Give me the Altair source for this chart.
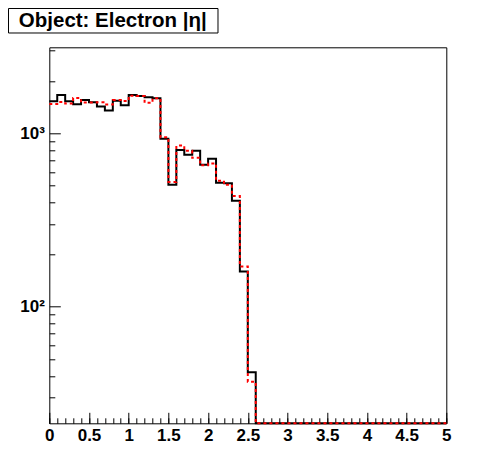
import altair as alt
import pandas as pd

# ---- data (bin contents, 50 bins of width 0.1 from 0 to 5) ----
bin_width = 0.1
black_counts = [1530, 1665, 1530, 1470, 1556, 1510, 1430, 1355, 1542, 1450,
                1665, 1640, 1612, 1592, 931, 505, 801, 753, 794, 659,
                714, 519, 515, 408, 160, 42, 0, 0, 0, 0,
                0, 0, 0, 0, 0, 0, 0, 0, 0, 0,
                0, 0, 0, 0, 0, 0, 0, 0, 0, 0]
red_counts = [1475, 1515, 1485, 1598, 1505, 1505, 1510, 1465, 1556, 1535,
              1645, 1640, 1502, 1592, 948, 524, 850, 794, 722, 654,
              671, 533, 505, 435, 171, 37, 0, 0, 0, 0,
              0, 0, 0, 0, 0, 0, 0, 0, 0, 0,
              0, 0, 0, 0, 0, 0, 0, 0, 0, 0]

x_major = [0, 0.5, 1, 1.5, 2, 2.5, 3, 3.5, 4, 4.5, 5]
x_minor = [round(i * bin_width, 1) for i in range(51)]
y_major = [100, 1000]
y_minor = [30, 40, 50, 60, 70, 80, 90, 200, 300, 400, 500, 600, 700, 800, 900, 2000, 3000]
y_domain = [21.3, 3133]
x_domain = [0, 5]
title_text = "Object: Electron |η|"


def hist_frame(counts):
    edges = [round(i * bin_width, 1) for i in range(len(counts))]
    xs = edges + [x_domain[1]]
    vs = counts + [counts[-1]]
    return pd.DataFrame({"x": xs, "v": vs})


FONT = "Liberation Sans"
W, H = 397, 376

xscale = alt.Scale(domain=x_domain, nice=False, zero=False)
yscale = alt.Scale(type="log", domain=y_domain, nice=False)

x_axis_major = alt.Axis(values=x_major, tickSize=11, offset=-11, domain=False, grid=False,
                        title=None, labelFont=FONT, labelFontWeight="bold", labelFontSize=17,
                        labelColor="black", tickColor="black", labelPadding=4,
                        labelFlush=False, labelOverlap=False, labelBound=False,
                        format=".1~f", orient="bottom")
y_axis_major = alt.Axis(values=y_major, tickSize=11, offset=-11, domain=False, grid=False,
                        title=None, labelFont=FONT, labelFontWeight="bold", labelFontSize=17,
                        labelColor="black", tickColor="black", labelPadding=5,
                        labelFlush=False, labelOverlap=False, labelBound=False,
                        labelExpr="datum.value == 1000 ? '10³' : '10²'", orient="left")
x_axis_minor = alt.Axis(values=x_minor, tickSize=5.5, offset=-5.5, domain=False, grid=False,
                        title=None, labels=False, tickColor="black", orient="bottom")
y_axis_minor = alt.Axis(values=y_minor, tickSize=5.5, offset=-5.5, domain=False, grid=False,
                        title=None, labels=False, tickColor="black", orient="left")

black = alt.Chart(hist_frame(black_counts)).transform_calculate(
    yv=f"max(datum.v, {y_domain[0]})"
).mark_line(interpolate="step-after", color="black", strokeWidth=2).encode(
    x=alt.X("x:Q", scale=xscale, axis=x_axis_major),
    y=alt.Y("yv:Q", scale=yscale, axis=y_axis_major),
)

red = alt.Chart(hist_frame(red_counts)).transform_calculate(
    yv=f"max(datum.v, {y_domain[0]})"
).mark_line(interpolate="step-after", color="#ff0000", strokeWidth=2, strokeDash=[3, 3]).encode(
    x=alt.X("x:Q", scale=xscale, axis=x_axis_minor),
    y=alt.Y("yv:Q", scale=yscale, axis=y_axis_minor),
)

title_df = pd.DataFrame({"t": [title_text]})
box = alt.Chart(title_df).mark_rect(fill="white", stroke="black", strokeWidth=1).encode(
    x=alt.value(-40.8), x2=alt.value(168.7), y=alt.value(-38.8), y2=alt.value(-14.3)
)
txt = alt.Chart(title_df).mark_text(font=FONT, fontWeight="bold", fontSize=20.5, color="black",
                                    align="center", baseline="middle").encode(
    x=alt.value(63.5), y=alt.value(-26.3), text="t:N"
)

chart = alt.layer(black, red, box, txt).resolve_axis(x="independent", y="independent").properties(
    width=W, height=H,
    autosize=alt.AutoSizeParams(type="none"),
    padding={"left": 41.3, "top": 39.3, "right": 40, "bottom": 40},
    background="white",
).configure_view(stroke="black", strokeWidth=1)

chart.save("out.html", embed_options={"renderer": "svg", "actions": False})
